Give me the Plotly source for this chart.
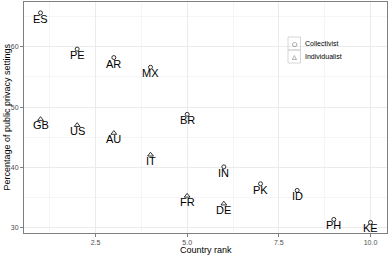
import plotly.graph_objects as go

# Collectivist countries
col_codes = ["ES", "PE", "AR", "MX", "BR", "IN", "PK", "ID", "PH", "KE"]
col_rank = [1, 2, 3, 4, 5, 6, 7, 8, 9, 10]
col_pct = [65.6, 59.6, 58.2, 56.6, 48.8, 40.1, 37.3, 36.2, 31.4, 30.9]

# Individualist countries
ind_codes = ["GB", "US", "AU", "IT", "FR", "DE"]
ind_rank = [1, 2, 3, 4, 5, 6]
ind_pct = [48.0, 47.0, 45.7, 42.1, 35.3, 34.0]

x_ticks = [2.5, 5.0, 7.5, 10.0]
y_ticks = [30, 40, 50, 60]

legend_names = ["Collectivist", "Individualist"]
legend_glyphs = ["\u25cb", "\u25b3"]

FONT = "Liberation Sans, Arial, sans-serif"

fig = go.Figure()
fig.add_trace(go.Scatter(
    x=col_rank, y=col_pct, mode="markers", name=legend_names[0],
    marker=dict(symbol="circle-open", size=4, color="black", line=dict(width=0.8, color="black")),
))
fig.add_trace(go.Scatter(
    x=ind_rank, y=ind_pct, mode="markers", name=legend_names[1],
    marker=dict(symbol="triangle-up-open", size=5, color="black", line=dict(width=0.8, color="black")),
))

annotations = []
for xs, ys, labels in [(col_rank, col_pct, col_codes), (ind_rank, ind_pct, ind_codes)]:
    for xv, yv, lab in zip(xs, ys, labels):
        annotations.append(dict(
            x=xv, y=yv, xref="x", yref="y", text=lab, showarrow=False,
            yshift=-6, font=dict(family=FONT, size=11, color="black"),
        ))

annotations.append(dict(
    x=0.5, y=0, xref="paper", yref="paper", text="Country rank", showarrow=False,
    yshift=-10, yanchor="top", font=dict(family=FONT, size=9, color="black"),
))
annotations.append(dict(
    x=0, y=0.5, xref="paper", yref="paper", text="Percentage of public privacy settings",
    showarrow=False, textangle=-90, xshift=-11, xanchor="right",
    font=dict(family=FONT, size=9, color="black"),
))

# Manual legend (ggplot-style keys inside the panel)
PW, PH0, PT, PL = 363.0, 231.0, 2.0, 24.0
def px(xp):
    return (xp - PL) / PW
def py(yp):
    return (PT + PH0 - yp) / PH0

shapes = []
key_tops = [37, 50]
for i, (name, glyph) in enumerate(zip(legend_names, legend_glyphs)):
    top = key_tops[i]
    shapes.append(dict(type="rect", xref="paper", yref="paper",
                       x0=px(288), x1=px(300.5), y0=py(top + 13), y1=py(top),
                       line=dict(color="#cccccc", width=0.8), fillcolor="rgba(0,0,0,0)"))
    annotations.append(dict(x=px(294.2), y=py(top + 6.5), xref="paper", yref="paper",
                            text=glyph, showarrow=False, xanchor="center", yanchor="middle",
                            font=dict(family="DejaVu Sans", size=6, color="black")))
    annotations.append(dict(x=px(302.5), y=py(top + 6.5), xref="paper", yref="paper",
                            text=name, showarrow=False, xanchor="left", yanchor="middle",
                            font=dict(family=FONT, size=7, color="black")))

axis_common = dict(
    showline=True, linecolor="#7f7f7f", linewidth=1, mirror=True,
    showgrid=True, gridcolor="#ebebeb", gridwidth=1,
    zeroline=False, ticks="outside", ticklen=3, tickcolor="#7f7f7f",
    tickfont=dict(family=FONT, size=7, color="#4d4d4d"),
    automargin=False,
)

fig.update_layout(
    width=390, height=256,
    margin=dict(l=24, r=3, t=2, b=23),
    paper_bgcolor="white", plot_bgcolor="white",
    xaxis=dict(range=[0.55, 10.45], tickvals=x_ticks, tickformat=".1f",
               minor=dict(showgrid=True, gridcolor="#f5f5f5", dtick=1.25, tick0=0),
               **axis_common),
    yaxis=dict(range=[29.15, 67.4], tickvals=y_ticks,
               minor=dict(showgrid=True, gridcolor="#f5f5f5", dtick=5, tick0=0),
               **axis_common),
    annotations=annotations,
    shapes=shapes,
    showlegend=False,
)

fig.write_html("out.html", config={"displayModeBar": False},
               post_script="document.body.style.margin='0px';")
